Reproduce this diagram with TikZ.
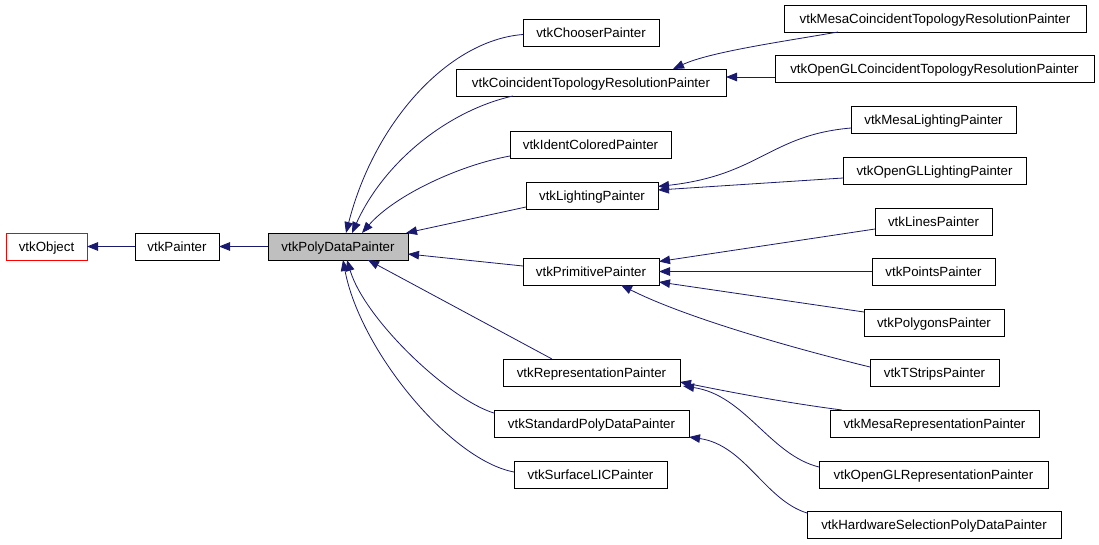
\documentclass[tikz,border=0pt]{standalone}
\usepackage{fontspec}
\setmainfont{Liberation Sans}
\usetikzlibrary{arrows.meta,calc}
\definecolor{edgec}{HTML}{191970}
\definecolor{graybox}{HTML}{BFBFBF}
\tikzset{
  box/.style={draw=black, fill=white, line width=0.8pt, minimum height=27pt, inner sep=0pt, outer sep=0pt,
    text height=9.6pt, text depth=0pt, font=\fontsize{13.3}{16}\selectfont},
  inh/.style={draw=edgec, line width=0.8pt, -{Triangle[length=11pt,width=8.5pt]}}
}
\begin{document}
\begin{tikzpicture}[x=1pt,y=-1pt]
\useasboundingbox[fill=white] (0,0) rectangle (1099,544);
% nodes
\node[box, draw=red, minimum width=81pt] (obj) at (46.5,246.5) {vtkObject};
\node[box, minimum width=84pt] (painter) at (177,246.5) {vtkPainter};
\node[box, fill=graybox, minimum width=140pt] (pdp) at (338,246.5) {vtkPolyDataPainter};
\node[box, minimum width=136pt] (chooser) at (591,32.5) {vtkChooserPainter};
\node[box, minimum width=270pt] (ctr) at (591,82.5) {vtkCoincidentTopologyResolutionPainter};
\node[box, minimum width=302pt] (mesactr) at (935,18.5) {vtkMesaCoincidentTopologyResolutionPainter};
\node[box, minimum width=319pt] (oglctr) at (934.5,68.5) {vtkOpenGLCoincidentTopologyResolutionPainter};
\node[box, minimum width=161pt] (ident) at (590.5,144.5) {vtkIdentColoredPainter};
\node[box, minimum width=132pt] (light) at (592,195.5) {vtkLightingPainter};
\node[box, minimum width=165pt] (mesalight) at (933.5,119.5) {vtkMesaLightingPainter};
\node[box, minimum width=183pt] (ogllight) at (934.5,170.5) {vtkOpenGLLightingPainter};
\node[box, minimum width=117pt] (lines) at (933.5,221.5) {vtkLinesPainter};
\node[box, minimum width=136pt] (prim) at (591,271.5) {vtkPrimitivePainter};
\node[box, minimum width=123pt] (points) at (933.5,271.5) {vtkPointsPainter};
\node[box, minimum width=140pt] (polys) at (934,322.5) {vtkPolygonsPainter};
\node[box, minimum width=129pt] (tstrips) at (934.5,372.5) {vtkTStripsPainter};
\node[box, minimum width=177pt] (rep) at (591.5,372.5) {vtkRepresentationPainter};
\node[box, minimum width=209pt] (mesarep) at (934.5,423.5) {vtkMesaRepresentationPainter};
\node[box, minimum width=195pt] (std) at (591.5,423.5) {vtkStandardPolyDataPainter};
\node[box, minimum width=229pt] (oglrep) at (933.5,474.5) {vtkOpenGLRepresentationPainter};
\node[box, minimum width=153pt] (lic) at (590.5,474.5) {vtkSurfaceLICPainter};
\node[box, minimum width=254pt] (hw) at (934,524.5) {vtkHardwareSelectionPolyDataPainter};
% edges
\draw[inh] (painter.west) -- (obj.east);
\draw[inh] (pdp.west) -- (painter.east);
\draw[inh] ($(chooser.west)+(0,2)$) .. controls (450,40) and (375,120) .. ($(pdp.north west)+(78,0)$);
\draw[inh] ($(ctr.south west)+(57,0)$) .. controls (450,110) and (385,160) .. ($(pdp.north west)+(84,0)$);
\draw[inh] ($(ident.south west)+(0,-2)$) .. controls (460,165) and (395,195) .. ($(pdp.north west)+(94,0)$);
\draw[inh] ($(light.south west)+(0,-2)$) -- ($(pdp.north east)+(-2,0)$);
\draw[inh] ($(prim.west)+(0,-5.5)$) -- ($(pdp.east)+(0,7.5)$);
\draw[inh] ($(rep.north west)+(49,0)$) -- ($(pdp.south west)+(100,0)$);
\draw[inh] ($(std.north west)+(0,3)$) .. controls (450,400) and (365,320) .. ($(pdp.south west)+(79,0)$);
\draw[inh] ($(lic.west)+(0,-2.5)$) .. controls (450,460) and (360,350) .. ($(pdp.south west)+(75,0)$);
\draw[inh] ($(mesactr.south west)+(54,0)$) .. controls (780,42) and (710,52) .. ($(ctr.north east)+(-53,0)$);
\draw[inh] ($(oglctr.west)+(0,8.5)$) -- ($(ctr.east)+(0,-5.5)$);
\draw[inh] ($(mesalight.south west)+(0,-5)$) .. controls (770,135) and (760,175) .. ($(light.east)+(0,-9)$);
\draw[inh] ($(ogllight.west)+(0,7.5)$) -- ($(light.east)+(0,-5.5)$);
\draw[inh] ($(lines.south west)+(0,-6)$) -- ($(prim.east)+(0,-10)$);
\draw[inh] (points.west) -- (prim.east);
\draw[inh] ($(polys.west)+(0,-10.5)$) -- ($(prim.east)+(0,10.5)$);
\draw[inh] ($(tstrips.west)+(0,-5.5)$) .. controls (780,345) and (680,315) .. ($(prim.south west)+(98,0)$);
\draw[inh] ($(mesarep.north west)+(12,0)$) .. controls (780,402) and (720,390) .. ($(rep.east)+(0,9.5)$);
\draw[inh] ($(oglrep.west)+(0,-7.5)$) .. controls (770,455) and (745,395) .. ($(rep.south east)+(3,0)$);
\draw[inh] ($(hw.north west)+(0,2)$) .. controls (765,500) and (745,445) .. (std.south east);
\end{tikzpicture}
\end{document}
